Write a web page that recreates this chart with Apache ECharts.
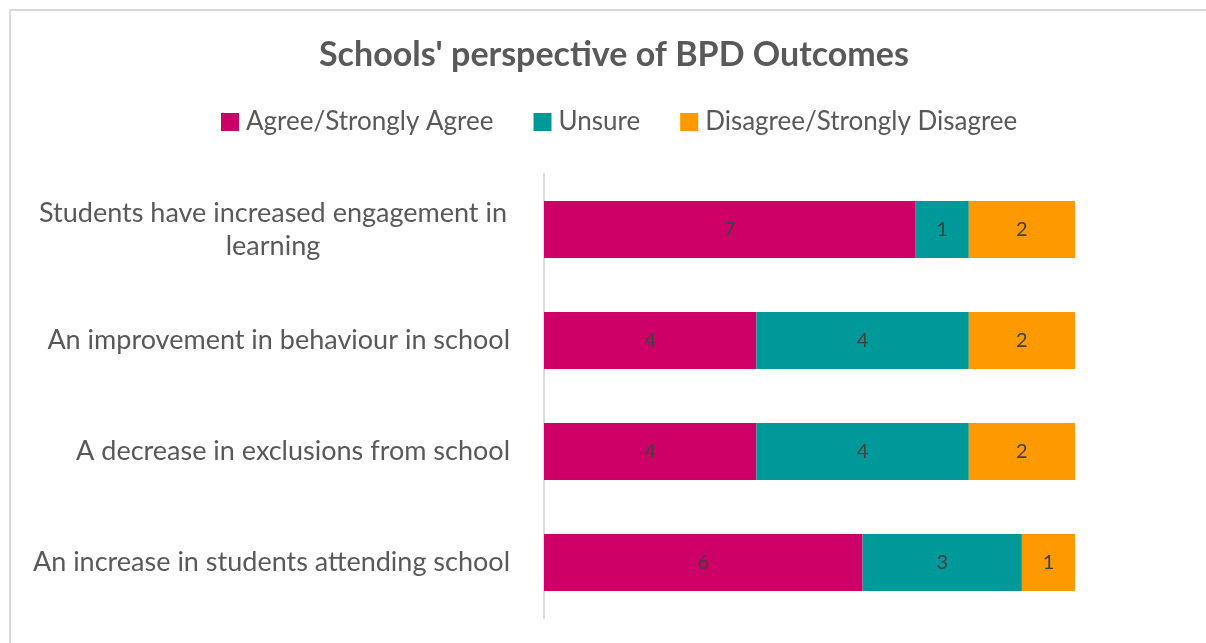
<!DOCTYPE html>
<html>
<head>
<meta charset="utf-8">
<script src="https://cdn.jsdelivr.net/npm/echarts@6/dist/echarts.min.js"></script>
<style>
    html, body { margin: 0; padding: 0; background: #fff; }
    #frame {
        position: absolute; left: 9px; top: 9px; width: 1300px; height: 700px;
        border-top: 2px solid #d9d9d9; border-left: 2px solid #d9d9d9;
    }
    #chart { position: absolute; left: 0; top: 0; width: 1206px; height: 643px; }
</style>
</head>
<body>
<div id="frame"></div>
<div id="chart"></div>
<script>
// categories, top to bottom as in the picture
const categories = [
    'Students have increased engagement in\nlearning',
    'An improvement in behaviour in school',
    'A decrease in exclusions from school',
    'An increase in students attending school'
]
const agree = [7, 4, 4, 6]
const unsure = [1, 4, 4, 3]
const disagree = [2, 2, 2, 1]
const seriesNames = ['Agree/Strongly Agree', 'Unsure', 'Disagree/Strongly Disagree']
const colors = ['#cc0066', '#009999', '#ff9900']

const font = 'Lato, "Open Sans", sans-serif'
const chart = echarts.init(document.getElementById('chart'))

const makeSeries = (name, data, color) => ({
    name: name,
    type: 'bar',
    stack: 'total',
    data: data,
    barWidth: 57,
    itemStyle: { color: color },
    label: {
        show: true,
        position: 'inside',
        color: '#404040',
        fontSize: 20,
        fontFamily: font
    }
})

chart.setOption({
    animation: false,
    title: {
        text: "Schools' perspective of BPD Outcomes",
        left: 314,
        top: 33,
        textStyle: { fontSize: 34, fontWeight: 'bold', color: '#595959', fontFamily: font }
    },
    legend: {
        top: 104,
        left: 216,
        itemWidth: 18,
        itemHeight: 18,
        itemGap: 40,
        icon: 'rect',
        textStyle: { fontSize: 26, color: '#595959', fontFamily: font, padding: [0, 0, 0, 2] },
        data: seriesNames
    },
    grid: { left: 544, right: 131, top: 174, bottom: 25, containLabel: false },
    xAxis: {
        type: 'value',
        min: 0,
        max: 10,
        show: false
    },
    yAxis: {
        type: 'category',
        inverse: true,
        data: categories,
        axisTick: { show: false },
        axisLine: { show: true, lineStyle: { color: '#d9d9d9', width: 2 } },
        axisLabel: {
            margin: 34,
            fontSize: 27,
            color: '#595959',
            fontFamily: font,
            formatter: function (v) {
                if (v.indexOf('\n') < 0) return v
                return v.split('\n').map(s => '{c|' + s + '}').join('\n')
            },
            rich: {
                c: { width: 474, align: 'center', fontSize: 27, color: '#595959', fontFamily: font, lineHeight: 33 }
            }
        }
    },
    series: [
        makeSeries(seriesNames[0], agree, colors[0]),
        makeSeries(seriesNames[1], unsure, colors[1]),
        makeSeries(seriesNames[2], disagree, colors[2])
    ]
})
</script>
</body>
</html>
